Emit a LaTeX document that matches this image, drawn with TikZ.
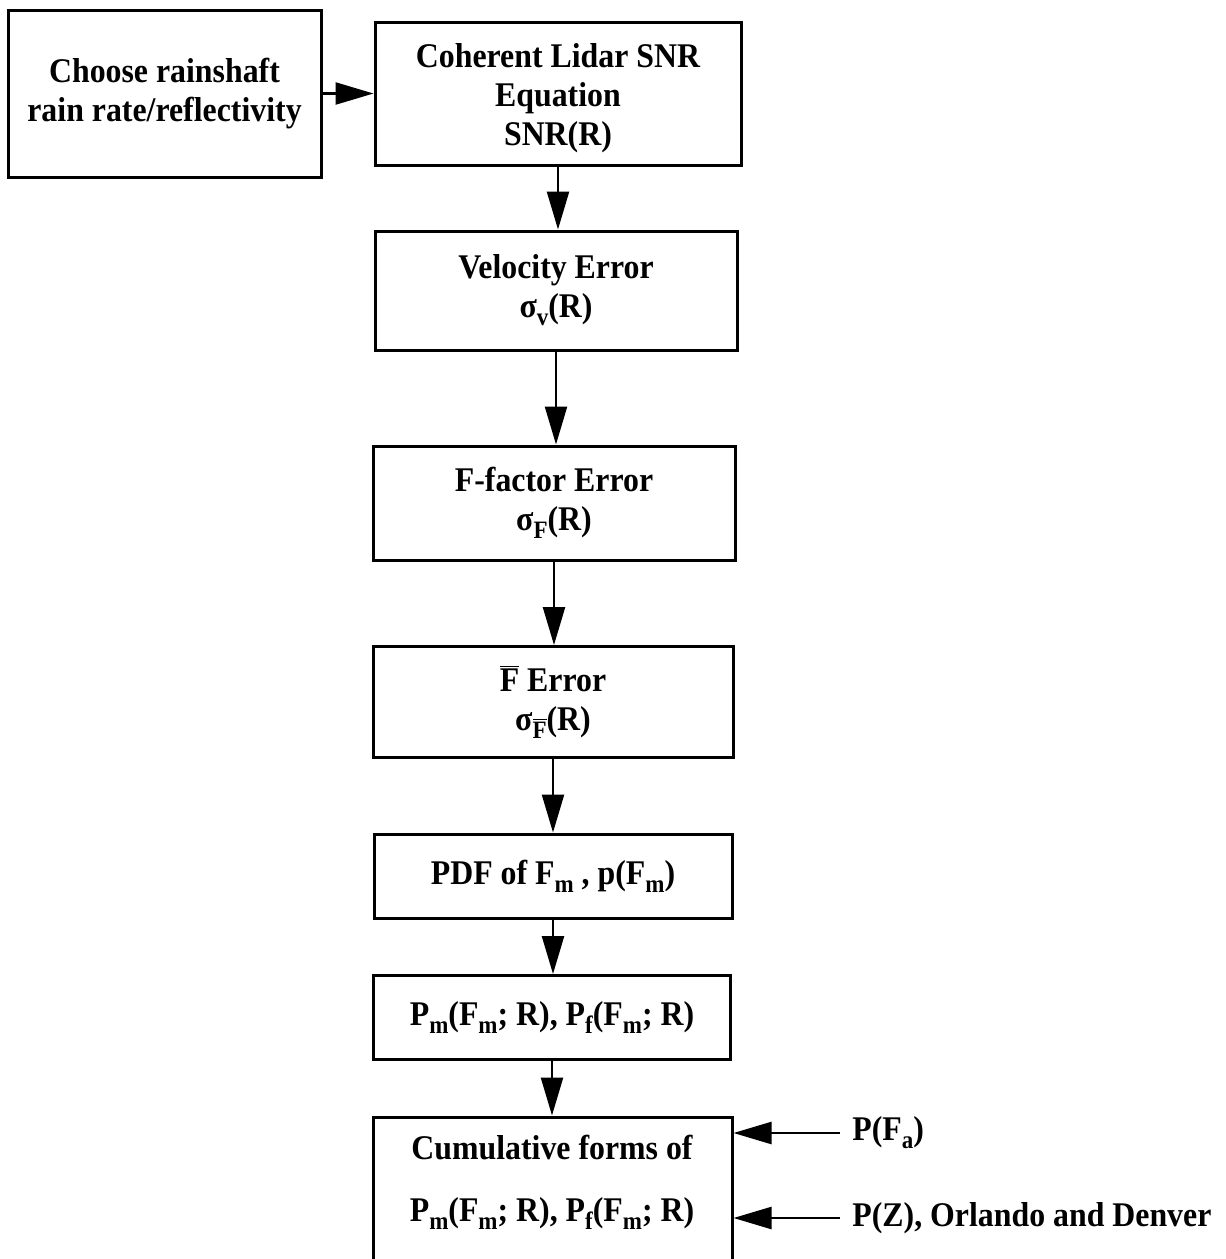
\documentclass[tikz,border=0pt]{standalone}
\usepackage{fontspec}
\setmainfont{Liberation Serif}[FakeStretch=0.92]
\usetikzlibrary{arrows.meta}
\newcommand{\sbs}[1]{\raisebox{-0.5ex}{\fontsize{12.5}{12.5}\selectfont #1}}
\newcommand{\Fbar}{\ensuremath{\overline{\hbox{F}}}}
\begin{document}
\begin{tikzpicture}[x=0.5pt,y=-0.5pt,
  box/.style={draw,line width=1.5pt,inner sep=0pt,align=center,
    font=\fontsize{17.3}{19.5}\selectfont\bfseries},
  lbl/.style={inner sep=0pt,anchor=west,font=\fontsize{17.3}{19.5}\selectfont\bfseries},
  arr/.style={line width=1.2pt,-{Triangle[width=11pt,length=19pt]}}]
\clip (0,0) rectangle (1226,1259);
\node[box,minimum width=156.5pt,minimum height=83.5pt] (A) at (164.5,93.5) {Choose rainshaft\\rain rate/reflectivity};
\node[box,minimum width=183pt,minimum height=71.5pt] (B) at (558,93.5) {\rule{0pt}{17pt}Coherent Lidar SNR\\Equation\\SNR(R)};
\node[box,minimum width=181pt,minimum height=59.5pt] (C) at (556,290.5) {Velocity Error\\σ\sbs{v}(R)};
\node[box,minimum width=181pt,minimum height=57pt] (D) at (554,503) {F-factor Error\\σ\sbs{F}(R)};
\node[box,minimum width=180pt,minimum height=55.5pt] (E) at (553,702) {\Fbar{} Error\\σ\sbs{\Fbar}(R)};
\node[box,minimum width=179pt,minimum height=42pt] (F) at (553,876) {PDF of F\sbs{m} , p(F\sbs{m})};
\node[box,minimum width=178.5pt,minimum height=42pt] (G) at (552,1017.5) {P\sbs{m}(F\sbs{m}; R), P\sbs{f}(F\sbs{m}; R)};
\node[box,minimum width=179.5pt,minimum height=91.5pt] (H) at (552.5,1208.5) {};
\node[box,draw=none,font=\fontsize{17.3}{31}\selectfont\bfseries] (Ht) at (552,1182) {Cumulative forms of\\P\sbs{m}(F\sbs{m}; R), P\sbs{f}(F\sbs{m}; R)};
\node[lbl] (L1) at (852,1133) {P(F\sbs{a})};
\node[lbl] (L2) at (852,1218) {P(Z), Orlando and Denver};
\draw[arr] (A.east) -- (A.east -| B.west);
\draw[arr] (B.south) -- (B.south |- C.north);
\draw[arr] (C.south) -- (C.south |- D.north);
\draw[arr] (D.south) -- (D.south |- E.north);
\draw[arr] (E.south) -- (E.south |- F.north);
\draw[arr] (F.south) -- (F.south |- G.north);
\draw[arr] (G.south) -- (G.south |- H.north);
\draw[arr,shorten <=6pt] (L1.west) -- (L1.west -| H.east);
\draw[arr,shorten <=6pt] (L2.west) -- (L2.west -| H.east);
\end{tikzpicture}
\end{document}
